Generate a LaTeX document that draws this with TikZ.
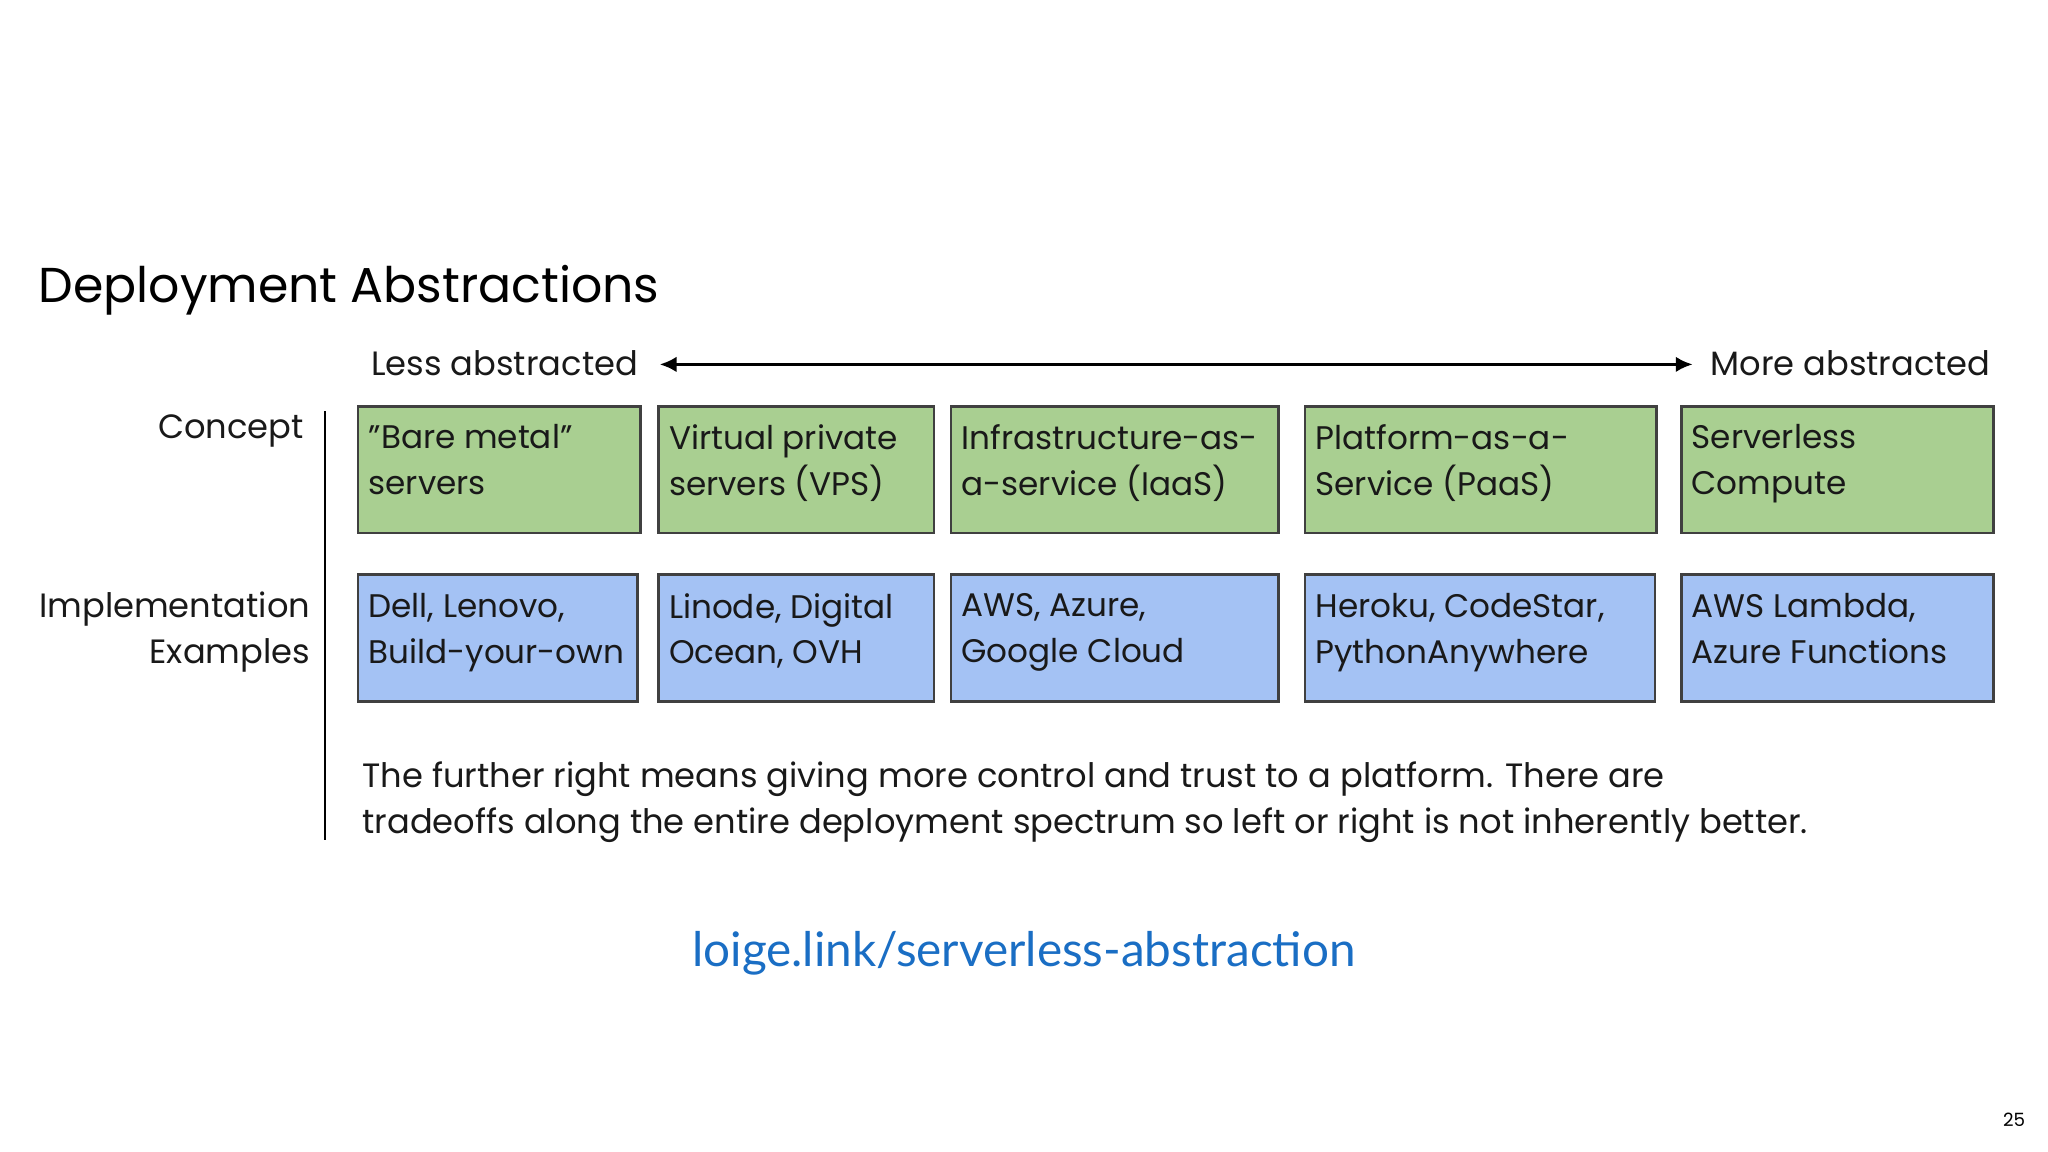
\documentclass[tikz,border=0pt]{standalone}
\usepackage{fontspec}
\setmainfont{Poppins}
\newfontfamily\linkfont{Lato}
\usetikzlibrary{arrows.meta}
\begin{document}
\begin{tikzpicture}[x=1pt,y=-1pt,
  cbox/.style={draw=black!75,line width=2.2pt,fill=#1},
  btxt/.style={anchor=north west,align=left,font=\fontsize{25}{35}\selectfont,text=black!90,inner sep=0pt},
  lbl/.style={font=\fontsize{25.8}{35}\selectfont,text=black!90}]
\useasboundingbox[fill=white] (0,0) rectangle (1568,882);
\definecolor{gfill}{HTML}{A9CF91}
\definecolor{bfill}{HTML}{A4C2F4}
\node[anchor=west,font=\fontsize{37.5}{40}\selectfont\mdseries] (title) at (26,222) {Deployment Abstractions};
\node[lbl,anchor=east] (less) at (492,278) {Less abstracted};
\node[lbl,anchor=west] (more) at (1306,278) {More abstracted};
\coordinate (al) at (505,279); \coordinate (ar) at (1296,279);
\draw[line width=2.5pt,{Latex[length=13pt,width=12pt]}-{Latex[length=13pt,width=12pt]}] (al) -- (ar);
\node[lbl,anchor=east] (concept) at (236,330) {Concept};
\node[lbl,anchor=east,align=right] (impl) at (241,484) {Implementation\\Examples};
\coordinate (vt) at (249,315); \coordinate (vb) at (249,643);
\draw[line width=1.5pt] (vt) -- (vb);
\foreach \a/\b/\t [count=\i] in {273/489/{\symbol{34}Bare metal\symbol{34}\\servers},503/714/{Virtual private\\servers (VPS)},727/978/{Infrastructure-as-\\a-service (IaaS)},998/1267/{Platform-as-a-\\Service (PaaS)},1286/1525/{Serverless\\Compute}}{
  \node[cbox=gfill,minimum width=\b-\a,minimum height=97,anchor=north west,inner sep=0] (g\i) at (\a,310) {};
  \node[btxt] (gt\i) at ([xshift=9pt,yshift=-15pt]g\i.north west) {\t};
}
\foreach \a/\b/\t [count=\i] in {273/487/{Dell, Lenovo,\\Build-your-own},503/714/{Linode, Digital\\Ocean, OVH},727/978/{AWS, Azure,\\Google Cloud},998/1266/{Heroku, CodeStar,\\PythonAnywhere},1286/1525/{AWS Lambda,\\Azure Functions}}{
  \node[cbox=bfill,minimum width=\b-\a,minimum height=97,anchor=north west,inner sep=0] (b\i) at (\a,439) {};
  \node[btxt] (bt\i) at ([xshift=9pt,yshift=-15pt]b\i.north west) {\t};
}
\node[lbl,anchor=west,align=left] (para) at (274,614) {The further right means giving more control and trust to a platform. There are\\tradeoffs along the entire deployment spectrum so left or right is not inherently better.};
\node[font=\linkfont\fontsize{36.5}{40}\selectfont,text={rgb,255:red,26;green,110;blue,196}] (link) at (784,730) {loige.link/serverless-abstraction};
\node[font=\fontsize{14}{16}\selectfont] (pg) at (1542,857) {25};
\end{tikzpicture}
\end{document}
